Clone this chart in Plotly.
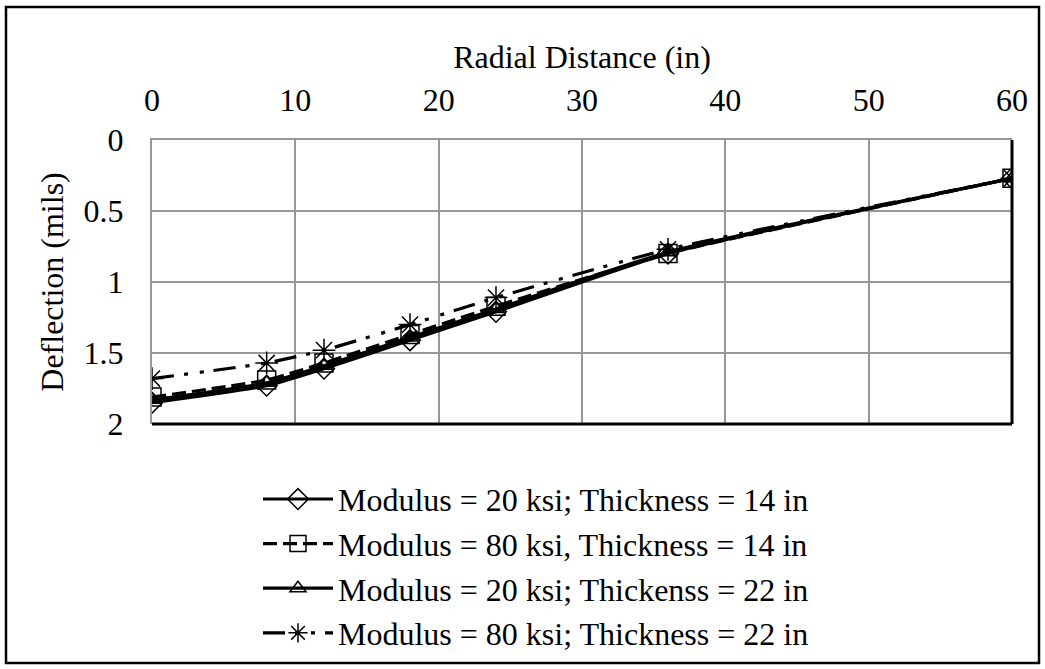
import plotly.graph_objects as go

# Radial offsets of the sensors (in)
radial_distance = [0, 8, 12, 18, 24, 36, 60]

# Surface deflection basins (mils)
defl_e20_h14 = [1.85, 1.73, 1.61, 1.41, 1.21, 0.80, 0.27]
defl_e80_h14 = [1.81, 1.69, 1.57, 1.37, 1.17, 0.80, 0.27]
defl_e20_h22 = [1.83, 1.71, 1.59, 1.39, 1.19, 0.79, 0.27]
defl_e80_h22 = [1.68, 1.57, 1.48, 1.30, 1.11, 0.77, 0.27]

series_names = [
    "Modulus = 20 ksi; Thickness = 14 in",
    "Modulus = 80 ksi, Thickness = 14 in",
    "Modulus = 20 ksi; Thickenss = 22 in",
    "Modulus = 80 ksi; Thickness = 22 in",
]

x_ticks = [0, 10, 20, 30, 40, 50, 60]
y_ticks = [0, 0.5, 1, 1.5, 2]
y_tick_text = ["0", "0.5", "1", "1.5", "2"]

FONT = "Liberation Serif, Times New Roman, serif"
W, H = 1045, 669
L, R, T, B = 152, 33, 140, 245

styles = [
    dict(dash="solid", symbol="diamond-open", size=16),
    dict(dash="14px,6px", symbol="square-open", size=18),
    dict(dash="solid", symbol="triangle-up-open", size=14),
    dict(dash="22px,10px,4px,12px,4px,10px", symbol="asterisk-open", size=19),
]

fig = go.Figure()
for name, ys, st in zip(series_names,
                        [defl_e20_h14, defl_e80_h14, defl_e20_h22, defl_e80_h22],
                        styles):
    fig.add_trace(go.Scatter(
        x=radial_distance, y=ys, name=name, mode="lines+markers",
        line=dict(color="black", width=3.2, dash=st["dash"], shape="spline", smoothing=0.5),
        marker=dict(symbol=st["symbol"], size=st["size"], color="black",
                    line=dict(color="black", width=1.5)),
    ))

pw = W - L - R
ph = H - T - B

# Outer chart border
fig.add_shape(type="rect", xref="paper", yref="paper",
              x0=(6 - L) / pw, x1=(1039 - L) / pw,
              y0=(H - B - 663) / ph, y1=(H - B - 7) / ph,
              line=dict(color="black", width=2.5), layer="above")
# Dark bottom and right edges of the plotting area
fig.add_shape(type="line", xref="paper", yref="paper", x0=0, x1=1, y0=0, y1=0,
              line=dict(color="black", width=3), layer="above")
fig.add_shape(type="line", xref="paper", yref="paper", x0=1, x1=1, y0=0, y1=1,
              line=dict(color="black", width=3), layer="above")

fig.update_layout(
    width=W, height=H,
    margin=dict(l=L, r=R, t=T, b=B, autoexpand=False),
    paper_bgcolor="white", plot_bgcolor="white",
    font=dict(family=FONT, size=32, color="black"),
    xaxis=dict(
        side="top", range=[0, 60], tickvals=x_ticks,
        showgrid=True, gridcolor="#979797", gridwidth=2,
        showline=True, linecolor="#979797", linewidth=2,
        ticks="outside", ticklen=14, tickcolor="white",
        zeroline=False, automargin=False,
        title=dict(text="Radial Distance (in)", font=dict(size=32), standoff=4),
    ),
    yaxis=dict(
        range=[2, 0], tickvals=y_ticks, ticktext=y_tick_text,
        showgrid=True, gridcolor="#979797", gridwidth=2,
        showline=True, linecolor="#979797", linewidth=2,
        ticks="outside", ticklen=20, tickcolor="white",
        zeroline=False, automargin=False,
        title=dict(text="Deflection (mils)", font=dict(size=32), standoff=10),
    ),
    legend=dict(
        x=(258 - L) / pw, y=-0.168, xanchor="left", yanchor="top",
        font=dict(family=FONT, size=32), itemwidth=70,
        tracegroupgap=0, bgcolor="rgba(0,0,0,0)",
    ),
    showlegend=True,
)

fig.write_html("out.html")
